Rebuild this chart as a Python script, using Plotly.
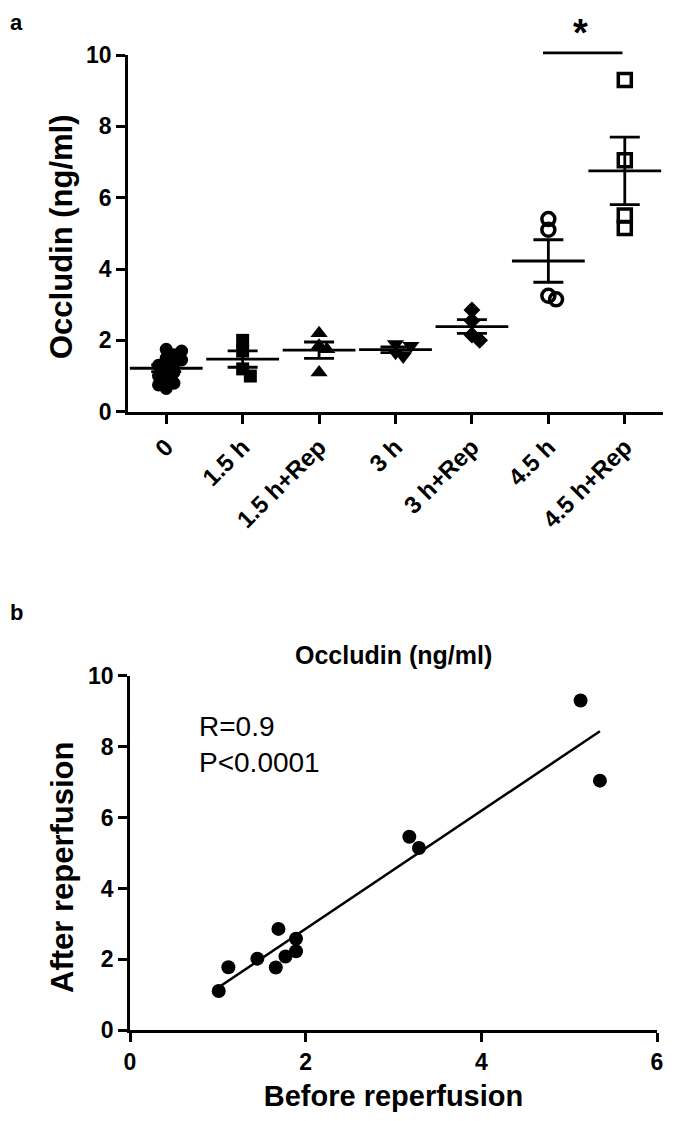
import numpy as np
import plotly.graph_objects as go

# ---------------- data: panel a ----------------
groups = ["0", "1.5 h", "1.5 h+Rep", "3 h", "3 h+Rep", "4.5 h", "4.5 h+Rep"]
g0 = [1.75, 1.7, 1.6, 1.5, 1.45, 1.35, 1.3, 1.2, 1.1, 1.0, 0.9, 0.8, 0.75, 0.65]
g15 = [2.0, 1.7, 1.2, 1.0]
g15rep = [2.2, 1.85, 1.75, 1.1]
g3 = [1.9, 1.85, 1.65, 1.55]
g3rep = [2.85, 2.55, 2.15, 2.0]
g45 = [5.4, 5.1, 3.25, 3.15]
g45rep = [9.3, 7.05, 5.5, 5.15]
group_values = [g0, g15, g15rep, g3, g3rep, g45, g45rep]
y_ticks_a = [0, 2, 4, 6, 8, 10]
y_title_a = "Occludin (ng/ml)"
sig_pair = [5, 6]          # 4.5 h vs 4.5 h+Rep
sig_label = "*"

# ---------------- data: panel b ----------------
before = [1.01, 1.12, 1.45, 1.66, 1.69, 1.77, 1.89, 1.89, 3.18, 3.29, 5.13, 5.35]
after = [1.11, 1.78, 2.02, 1.77, 2.86, 2.08, 2.23, 2.58, 5.46, 5.14, 9.3, 7.04]
x_ticks_b = [0, 2, 4, 6]
y_ticks_b = [0, 2, 4, 6, 8, 10]
title_b = "Occludin (ng/ml)"
x_title_b = "Before reperfusion"
y_title_b = "After reperfusion"
stats_text = ["R=0.9", "P<0.0001"]

# ---------------- styles ----------------
W, H = 675, 1121
OFF = 8  # page body margin in the viewer
FONT = "Liberation Sans, Arial, sans-serif"
BLACK = "#000000"

styles = [
    dict(symbol="circle", size=13, color=BLACK, line=dict(width=0)),
    dict(symbol="square", size=13, color=BLACK, line=dict(width=0)),
    dict(symbol="triangle-up", size=15, color=BLACK, line=dict(width=0)),
    dict(symbol="triangle-down", size=15, color=BLACK, line=dict(width=0)),
    dict(symbol="diamond", size=13, color=BLACK, line=dict(width=0)),
    dict(symbol="circle-open", size=13, color=BLACK, line=dict(width=3.5, color=BLACK)),
    dict(symbol="square-open", size=13, color=BLACK, line=dict(width=3.5, color=BLACK)),
]

# panel geometry (pixels on screen, converted to figure pixels with OFF)
A_X0, A_X1, A_Y0, A_Y1 = 128.0 - OFF, 663.0 - OFF, 55.0 - OFF, 411.7 - OFF
B_X0, B_X1, B_Y0, B_Y1 = 130.0 - OFF, 657.0 - OFF, 675.7 - OFF, 1030.3 - OFF
A_RANGE_X = [-0.5, 6.5]
A_RANGE_Y = [0, 10]
px_per_cat = (A_X1 - A_X0) / (A_RANGE_X[1] - A_RANGE_X[0])
px_per_unit_a = (A_Y1 - A_Y0) / (A_RANGE_Y[1] - A_RANGE_Y[0])


def px_to_paper(px, py):
    return px / W, 1 - py / H


def a_to_paper(x, y):
    """Panel-a data coordinates -> paper coordinates (for decorations above the axis)."""
    px = A_X0 + (x - A_RANGE_X[0]) * px_per_cat
    py = A_Y1 - (y - A_RANGE_Y[0]) * px_per_unit_a
    return px_to_paper(px, py)


def swarm(values, diam_px):
    """Simple deterministic beeswarm: horizontal offsets (category units)."""
    order = np.argsort(values)[::-1]
    placed = []
    offs = np.zeros(len(values))
    step = diam_px * 0.55
    cand = [0.0]
    for k in range(1, 10):
        cand += [k * step, -k * step]
    for i in order:
        ypx = values[i] * px_per_unit_a
        for c in cand:
            if all((c - px) ** 2 + (ypx - py) ** 2 >= (diam_px * 0.6) ** 2 for px, py in placed):
                offs[i] = c / px_per_cat
                placed.append((c, ypx))
                break
    return offs


fig = go.Figure()

for gi, (vals, st) in enumerate(zip(group_values, styles)):
    vals = np.array(vals, dtype=float)
    offs = swarm(vals, 14)
    fig.add_trace(go.Scatter(
        x=gi + offs, y=vals, mode="markers", marker=st,
        xaxis="x", yaxis="y", showlegend=False, cliponaxis=False, hoverinfo="y"))
    mean = vals.mean()
    sem = vals.std(ddof=1) / np.sqrt(len(vals))
    fig.add_trace(go.Scatter(
        x=[gi], y=[mean], mode="markers",
        marker=dict(symbol="line-ew", size=52, line=dict(width=2.8, color=BLACK)),
        error_y=dict(type="data", array=[sem], visible=True, color=BLACK, thickness=2.8, width=15),
        xaxis="x", yaxis="y", showlegend=False, cliponaxis=False, hoverinfo="y"))

# significance bar and asterisk (above the plotting range -> paper coordinates)
sx0, sy = a_to_paper(sig_pair[0] - 0.07, 10.06)
sx1, _ = a_to_paper(sig_pair[1] - 0.03, 10.06)
fig.add_shape(type="line", xref="paper", yref="paper", x0=sx0, x1=sx1, y0=sy, y1=sy,
              line=dict(color=BLACK, width=2.8))
ax_, ay_ = a_to_paper((sig_pair[0] + sig_pair[1]) / 2 - 0.08, 10.62)
fig.add_annotation(x=ax_, y=ay_, xref="paper", yref="paper", text=sig_label,
                   showarrow=False, xanchor="center", yanchor="middle",
                   font=dict(family=FONT, size=38, color=BLACK, weight="bold"))

# panel b scatter + regression
bx = np.array(before)
by = np.array(after)
slope, intercept = np.polyfit(bx, by, 1)
xl = np.array([bx.min(), bx.max()])
fig.add_trace(go.Scatter(
    x=before, y=after, mode="markers",
    marker=dict(symbol="circle", size=14, color=BLACK),
    xaxis="x2", yaxis="y2", showlegend=False, cliponaxis=False))
fig.add_trace(go.Scatter(
    x=xl, y=slope * xl + intercept, mode="lines",
    line=dict(color=BLACK, width=2.5), xaxis="x2", yaxis="y2",
    showlegend=False, hoverinfo="skip"))
fig.add_annotation(x=0.76, y=9.06, xref="x2", yref="y2", text="<br>".join(stats_text),
                   showarrow=False, xanchor="left", yanchor="top", align="left",
                   font=dict(family=FONT, size=28, color=BLACK))


def dom_x(x0, x1):
    return [x0 / W, x1 / W]


def dom_y(y0, y1):
    return [(H - y1) / H, (H - y0) / H]


tick_font_x = dict(family=FONT, size=24, color=BLACK, weight="bold")
tick_font_y = dict(family=FONT, size=23, color=BLACK, weight="bold")
axis_common = dict(showline=True, linecolor=BLACK, linewidth=2.8, ticks="outside",
                   ticklen=9, tickwidth=2.8, tickcolor=BLACK, showgrid=False,
                   zeroline=False, automargin=False)

fig.update_layout(
    template="none",
    width=W, height=H,
    margin=dict(l=0, r=0, t=0, b=0, pad=0),
    paper_bgcolor="white", plot_bgcolor="white",
    font=dict(family=FONT, color=BLACK),
    xaxis=dict(domain=dom_x(A_X0, A_X1), range=A_RANGE_X, anchor="y",
               tickmode="array", tickvals=list(range(len(groups))), ticktext=groups,
               tickangle=-45, tickfont=tick_font_x, **axis_common),
    yaxis=dict(domain=dom_y(A_Y0, A_Y1), range=A_RANGE_Y, anchor="x",
               tickmode="array", tickvals=y_ticks_a, tickfont=tick_font_y,
               **axis_common),
    xaxis2=dict(domain=dom_x(B_X0, B_X1), range=[0, 6], anchor="y2",
                tickmode="array", tickvals=x_ticks_b, tickfont=tick_font_y,
                title=dict(text=x_title_b, standoff=12,
                           font=dict(family=FONT, size=29, color=BLACK, weight="bold")),
                **axis_common),
    yaxis2=dict(domain=dom_y(B_Y0, B_Y1), range=[0, 10], anchor="x2",
                tickmode="array", tickvals=y_ticks_b, tickfont=tick_font_y,
                **axis_common),
)

title_font = dict(family=FONT, size=31, color=BLACK, weight="bold")

# y-axis titles (rotated text)
tx, ty = px_to_paper(61 - OFF, 237 - OFF)
fig.add_annotation(x=tx, y=ty, xref="paper", yref="paper", text=y_title_a, textangle=-90,
                   showarrow=False, xanchor="center", yanchor="middle", font=title_font)
tx, ty = px_to_paper(62 - OFF, 868 - OFF)
fig.add_annotation(x=tx, y=ty, xref="paper", yref="paper", text=y_title_b, textangle=-90,
                   showarrow=False, xanchor="center", yanchor="middle", font=title_font)

# panel title b
tx, ty = px_to_paper((B_X0 + B_X1) / 2, 655 - OFF)
fig.add_annotation(x=tx, y=ty, xref="paper", yref="paper",
                   text=title_b, showarrow=False,
                   font=dict(family=FONT, size=25, color=BLACK, weight="bold"))

# panel letters
letter_font = dict(family=FONT, size=22, color=BLACK, weight="bold")
tx, _ = px_to_paper(16 - OFF, 0)
fig.add_annotation(x=tx, y=1.0, xref="paper", yref="paper", text="a",
                   showarrow=False, xanchor="center", yanchor="top", font=letter_font)
tx, ty = px_to_paper(16 - OFF, 612 - OFF)
fig.add_annotation(x=tx, y=ty, xref="paper", yref="paper", text="b",
                   showarrow=False, xanchor="center", yanchor="middle", font=letter_font)

fig.write_html("out.html")
